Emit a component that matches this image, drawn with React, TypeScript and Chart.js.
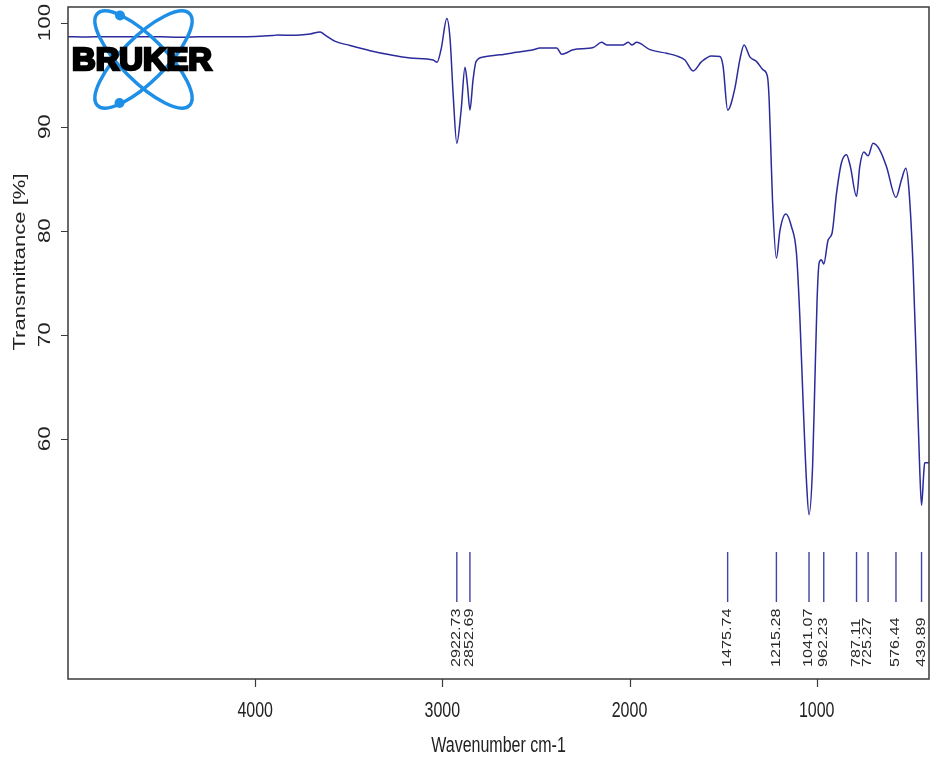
import { useEffect, useRef } from "react";
import { Chart, registerables } from "chart.js";

Chart.register(...registerables);

// ---- data ----
const wavenumbers = [
  5000, 4900, 4800, 4700, 4600, 4500, 4400, 4300, 4200, 4100, 4000, 3909, 3882, 3800, 3760, 3706, 3653, 3626,
  3572, 3493, 3386, 3279, 3172, 3049, 3028, 3006, 2976, 2959, 2942, 2922.73, 2900, 2879, 2866, 2852.69, 2836,
  2820, 2781, 2692, 2603, 2514, 2479, 2389, 2362, 2336, 2301, 2194, 2149, 2122, 2034, 2007, 1986, 1962, 1891,
  1802, 1749, 1704, 1660, 1615, 1562, 1517, 1500, 1475.74, 1437, 1411, 1388, 1357, 1321, 1286, 1263, 1254,
  1245, 1236, 1215.28, 1196, 1165, 1135, 1108, 1090, 1073, 1054, 1041.07, 1022, 1010, 998, 987, 975, 962.23,
  939, 918, 894, 868, 841, 820, 787.11, 770, 748, 725.27, 699, 663, 627, 576.44, 547, 524, 507, 485, 467, 450,
  439.89, 428, 423, 400,
];
const transmittance = [
  98.65, 98.62, 98.65, 98.64, 98.65, 98.63, 98.6, 98.64, 98.65, 98.64, 98.66, 98.75, 98.8, 98.78, 98.8, 98.9,
  99.1, 98.8, 98.2, 97.8, 97.3, 96.9, 96.6, 96.4, 96.2, 97.5, 100.4, 98.5, 93.0, 88.4, 91.5, 95.7, 94.0, 91.6,
  94.5, 96.25, 96.7, 96.9, 97.15, 97.4, 97.55, 97.55, 96.95, 97.1, 97.4, 97.6, 98.1, 97.85, 97.85, 98.1, 97.85,
  98.1, 97.4, 97.05, 96.8, 96.4, 95.35, 96.25, 96.8, 96.75, 95.8, 91.6, 93.7, 96.4, 97.85, 96.7, 96.25, 95.45,
  94.8, 92.6, 87.75, 82.9, 77.35, 80.05, 81.6, 80.4, 77.8, 71.7, 63.7, 55.7, 52.7, 57.3, 65.3, 73.3, 76.9, 77.2,
  76.8, 79.1, 79.75, 83.6, 86.5, 87.3, 86.15, 83.3, 86.15, 87.55, 87.2, 88.4, 87.75, 86.15, 83.2, 84.9, 86.0,
  83.9, 76.5, 66.9, 57.3, 53.6, 56.7, 57.7, 57.7,
];
const peakPositions = [2922.73, 2852.69, 1475.74, 1215.28, 1041.07, 962.23, 787.11, 725.27, 576.44, 439.89];
const peakLabels = ["2922.73", "2852.69", "1475.74", "1215.28", "1041.07", "962.23", "787.11", "725.27", "576.44", "439.89"];
const xTicks = [4000, 3000, 2000, 1000];
const yTicks = [60, 70, 80, 90, 100];
const xTickLabels = ["4000", "3000", "2000", "1000"];
const yTickLabels = ["60", "70", "80", "90", "100"];

const X_MIN = 400;
const X_MAX = 5000;
const Y_MIN = 36.9;
const Y_MAX = 101.5;
const PEAK_LINE_TOP = 49.1;
const PEAK_LINE_BOTTOM = 44.3;
const PEAK_LABEL_START = 38.05;

const FONT = '"Liberation Sans", Arial, Helvetica, sans-serif';
const LINE_COLOR = "#2b2b9c";

function drawText(
  ctx: CanvasRenderingContext2D,
  text: string,
  x: number,
  y: number,
  rot: number,
  font: string,
  sx: number,
  sy: number,
  align: CanvasTextAlign,
  baseline: CanvasTextBaseline,
  color: string
) {
  ctx.save();
  ctx.translate(x, y);
  ctx.rotate(rot);
  ctx.scale(sx, sy);
  ctx.font = font;
  ctx.fillStyle = color;
  ctx.textAlign = align;
  ctx.textBaseline = baseline;
  ctx.fillText(text, 0, 0);
  ctx.restore();
}

const decorPlugin = {
  id: "irDecor",
  afterDatasetsDraw(chart: any) {
    const ctx: CanvasRenderingContext2D = chart.ctx;
    const area = chart.chartArea;
    const xs = chart.scales.x;
    const ys = chart.scales.y;

    // plot box
    ctx.save();
    ctx.strokeStyle = "#3a3a3a";
    ctx.lineWidth = 1.5;
    ctx.strokeRect(area.left, area.top, area.right - area.left, area.bottom - area.top);

    // ticks
    ctx.beginPath();
    xTicks.forEach((t) => {
      const px = Math.round(xs.getPixelForValue(t)) + 0.5;
      ctx.moveTo(px, area.bottom);
      ctx.lineTo(px, area.bottom + 8);
    });
    yTicks.forEach((t) => {
      const py = Math.round(ys.getPixelForValue(t)) + 0.5;
      ctx.moveTo(area.left, py);
      ctx.lineTo(area.left - 7, py);
    });
    ctx.lineWidth = 1.2;
    ctx.stroke();
    ctx.restore();

    // tick labels
    xTicks.forEach((t, i) => {
      drawText(ctx, xTickLabels[i], xs.getPixelForValue(t), 717, 0, `16px ${FONT}`, 1, 1.4, "center", "alphabetic", "#222");
    });
    yTicks.forEach((t, i) => {
      drawText(ctx, yTickLabels[i], 49.5, ys.getPixelForValue(t), -Math.PI / 2, `16px ${FONT}`, 1.4, 1, "center", "alphabetic", "#222");
    });

    // axis titles
    drawText(ctx, "Wavenumber cm-1", (area.left + area.right) / 2, 752, 0, `16px ${FONT}`, 1, 1.35, "center", "alphabetic", "#222");
    drawText(ctx, "Transmittance [%]", 25, 262, -Math.PI / 2, `16px ${FONT}`, 1.38, 1, "center", "alphabetic", "#222");

    // peak markers
    ctx.save();
    ctx.beginPath();
    ctx.rect(area.left, area.top, area.right - area.left, area.bottom - area.top);
    ctx.clip();
    ctx.strokeStyle = "#4242aa";
    ctx.lineWidth = 1.4;
    ctx.beginPath();
    peakPositions.forEach((p) => {
      const px = xs.getPixelForValue(p);
      ctx.moveTo(px, ys.getPixelForValue(PEAK_LINE_TOP));
      ctx.lineTo(px, ys.getPixelForValue(PEAK_LINE_BOTTOM));
    });
    ctx.stroke();
    peakPositions.forEach((p, i) => {
      drawText(ctx, peakLabels[i], xs.getPixelForValue(p), ys.getPixelForValue(PEAK_LABEL_START), -Math.PI / 2, `12px ${FONT}`, 1.35, 1, "left", "middle", "#2a2a2a");
    });
    ctx.restore();

    // BRUKER logo
    ctx.save();
    const cx = 143.5;
    const cy = 59.5;
    ctx.strokeStyle = "#1e8fe6";
    ctx.fillStyle = "#1e8fe6";
    ctx.lineWidth = 3.5;
    ctx.beginPath();
    ctx.ellipse(cx, cy, 65, 22, Math.PI / 4, 0, Math.PI * 2);
    ctx.stroke();
    ctx.beginPath();
    ctx.ellipse(cx, cy, 65, 22, -Math.PI / 4, 0, Math.PI * 2);
    ctx.stroke();
    ctx.beginPath();
    ctx.arc(120, 15.5, 5, 0, Math.PI * 2);
    ctx.fill();
    ctx.beginPath();
    ctx.arc(119.5, 103, 5, 0, Math.PI * 2);
    ctx.fill();
    ctx.font = `bold 31px ${FONT}`;
    const w = ctx.measureText("BRUKER").width;
    ctx.translate(72, 70);
    ctx.scale(140 / w, 1);
    ctx.fillStyle = "#000";
    ctx.strokeStyle = "#000";
    ctx.lineWidth = 2.6;
    ctx.lineJoin = "miter";
    ctx.textAlign = "left";
    ctx.textBaseline = "alphabetic";
    ctx.fillText("BRUKER", 0, 0);
    ctx.strokeText("BRUKER", 0, 0);
    ctx.restore();
  },
};

export default function App() {
  const canvasRef = useRef<HTMLCanvasElement | null>(null);

  useEffect(() => {
    if (!canvasRef.current) return;
    const points = wavenumbers.map((w, i) => ({ x: w, y: transmittance[i] }));
    const chart = new Chart(canvasRef.current, {
      type: "line",
      data: {
        datasets: [
          {
            data: points,
            borderColor: LINE_COLOR,
            borderWidth: 1.5,
            pointRadius: 0,
            fill: false,
            cubicInterpolationMode: "monotone",
          },
        ],
      },
      options: {
        animation: false,
        responsive: true,
        maintainAspectRatio: false,
        layout: { padding: { top: 7, right: 7, left: 0, bottom: 0 } },
        plugins: { legend: { display: false }, tooltip: { enabled: false } },
        scales: {
          x: {
            type: "linear",
            reverse: true,
            min: X_MIN,
            max: X_MAX,
            grid: { display: false },
            border: { display: false },
            ticks: { display: false },
            afterFit: (scale: any) => {
              scale.height = 83;
            },
          },
          y: {
            type: "linear",
            min: Y_MIN,
            max: Y_MAX,
            grid: { display: false },
            border: { display: false },
            ticks: { display: false },
            afterFit: (scale: any) => {
              scale.width = 68;
            },
          },
        },
      } as any,
      plugins: [decorPlugin],
    });
    return () => chart.destroy();
  }, []);

  return (
    <div style={{ position: "absolute", left: 0, top: 0, width: 936, height: 762, background: "#fff" }}>
      <canvas ref={canvasRef} />
    </div>
  );
}
